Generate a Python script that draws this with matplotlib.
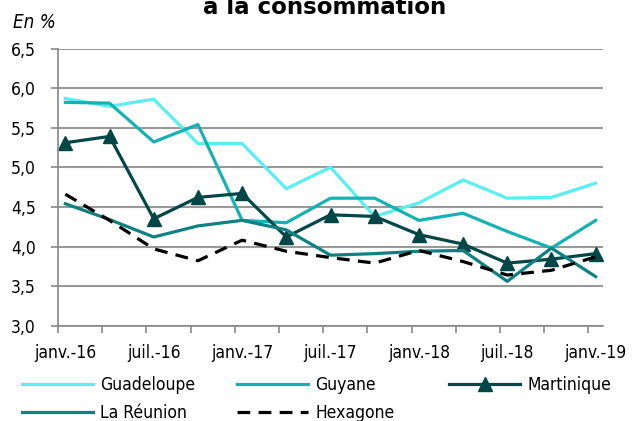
import matplotlib
matplotlib.use("Agg")
import matplotlib.pyplot as plt
from matplotlib.ticker import FuncFormatter

# quarterly points, x in months since janv.-16
months = [0, 3, 6, 9, 12, 15, 18, 21, 24, 27, 30, 33, 36]
tick_labels = ["janv.-16", "juil.-16", "janv.-17", "juil.-17", "janv.-18", "juil.-18", "janv.-19"]

guadeloupe = [5.87, 5.77, 5.86, 5.30, 5.30, 4.73, 5.00, 4.38, 4.55, 4.84, 4.61, 4.62, 4.80]
guyane = [5.82, 5.81, 5.32, 5.54, 4.33, 4.30, 4.61, 4.61, 4.33, 4.42, 4.19, 3.98, 4.33]
martinique = [5.31, 5.39, 4.35, 4.62, 4.67, 4.12, 4.40, 4.38, 4.15, 4.03, 3.79, 3.84, 3.91]
reunion = [4.54, 4.34, 4.12, 4.26, 4.33, 4.21, 3.89, 3.91, 3.94, 3.95, 3.56, 3.98, 3.62]
hexagone = [4.66, 4.33, 3.97, 3.82, 4.08, 3.94, 3.86, 3.79, 3.95, 3.81, 3.64, 3.70, 3.87]

plt.rcParams['font.family'] = ['DejaVu Sans']
plt.rcParams['font.stretch'] = 'condensed'
fs = 12.5

fig = plt.figure(figsize=(6.36, 4.21), dpi=100)
ax = fig.add_axes([58 / 636, 1 - 325.7 / 421, (603 - 58) / 636, (325.7 - 48.5) / 421])

lw = 2.3
l1, = ax.plot(months, guadeloupe, color='#57EFF2', lw=lw, label='Guadeloupe')
l2, = ax.plot(months, guyane, color='#14B2B4', lw=lw, label='Guyane')
l3, = ax.plot(months, martinique, color='#024648', lw=lw, marker='^', markersize=9.5, label='Martinique')
l4, = ax.plot(months, reunion, color='#0E8183', lw=lw, label='La Réunion')
l5, = ax.plot(months, hexagone, color='black', lw=lw, dashes=(4, 2.6), label='Hexagone')

ax.set_ylim(3.0, 6.5)
ax.set_yticks([3.0, 3.5, 4.0, 4.5, 5.0, 5.5, 6.0, 6.5])
ax.yaxis.set_major_formatter(FuncFormatter(lambda v, p: f"{v:.1f}".replace('.', ',')))
ax.set_xlim(-0.5, 36.5)
ax.set_xticks([m - 0.5 for m in months])
ax.set_xticklabels([])
ax.set_xticks(months[::2], minor=True)
ax.set_xticklabels(tick_labels, minor=True)
ax.tick_params(axis='x', which='minor', length=0, pad=13, labelsize=fs)
ax.tick_params(axis='x', which='major', length=5, color='#888888', width=1.2)
ax.tick_params(axis='y', length=5, color='#888888', width=1.2, labelsize=fs, pad=11)

ax.grid(axis='y', color='#999999', lw=1.5)
ax.set_axisbelow(True)
for s in ['top', 'right']:
    ax.spines[s].set_visible(False)
for s in ['left', 'bottom']:
    ax.spines[s].set_color('#888888')
    ax.spines[s].set_linewidth(1.2)

# title is partly cut off at the top, as in the source image
fig.text(325 / 636, 1 - 14 / 421, "à la consommation", ha='center', va='baseline',
         fontsize=16.5, fontweight='bold', fontstretch='normal')
fig.text(13 / 636, 1 - 28 / 421, "En %", fontstyle='italic', fontsize=13.5, va='baseline')

# legend: three columns
cols = [([l1, l4], 22), ([l2, l5], 237), ([l3], 449)]
for handles, xpx in cols:
    fig.legend(handles=handles, loc='upper left', bbox_to_anchor=(xpx / 636, 1 - 376 / 421),
               frameon=False, fontsize=fs, handlelength=4.1, handletextpad=0.4,
               labelspacing=0.6, borderpad=0, borderaxespad=0)

fig.savefig('out.png', dpi=100)
